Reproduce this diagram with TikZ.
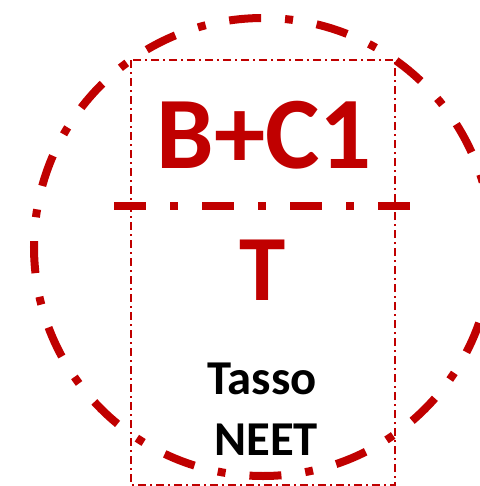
\documentclass[tikz,border=0pt]{standalone}
\usepackage{fontspec}
\setmainfont{Carlito}
\definecolor{darkred}{HTML}{C00000}
\tikzset{
  bigdash/.style={darkred, line width=6pt, dash pattern=on 24pt off 18pt on 6pt off 18pt},
  thindash/.style={darkred, line width=0.8pt, dash pattern=on 6pt off 3pt on 1.5pt off 3pt},
  label/.style={inner sep=0pt, anchor=base, font=\bfseries}
}
\begin{document}
\begin{tikzpicture}[x=0.75pt,y=-0.75pt]
          \useasboundingbox (0,0) rectangle (479,486);
          \coordinate (O) at (263,247);
          \coordinate (TL) at (131,60);
          \coordinate (BR) at (395,485);
          \coordinate (L) at (114,206);
          \coordinate (R) at (410,206);

          \node[label, text=darkred, font=\bfseries\fontsize{77}{80}\selectfont] (A) at (264,168) {B+C1};
          \node[label, text=darkred, font=\bfseries\fontsize{70}{74}\selectfont] (B) at (262.5,300) {T};
          \node[label, font=\bfseries\fontsize{36.5}{40}\selectfont] (C) at (262,394) {Tasso};
          \node[label, font=\bfseries\fontsize{36.5}{40}\selectfont] (D) at (266,455) {NEET};

          \draw[thindash] (TL) rectangle (BR);
          \draw[bigdash, dash phase=8pt] (O) circle[radius=229];
          \draw[bigdash] (L) -- (R);
        \end{tikzpicture}
\end{document}
